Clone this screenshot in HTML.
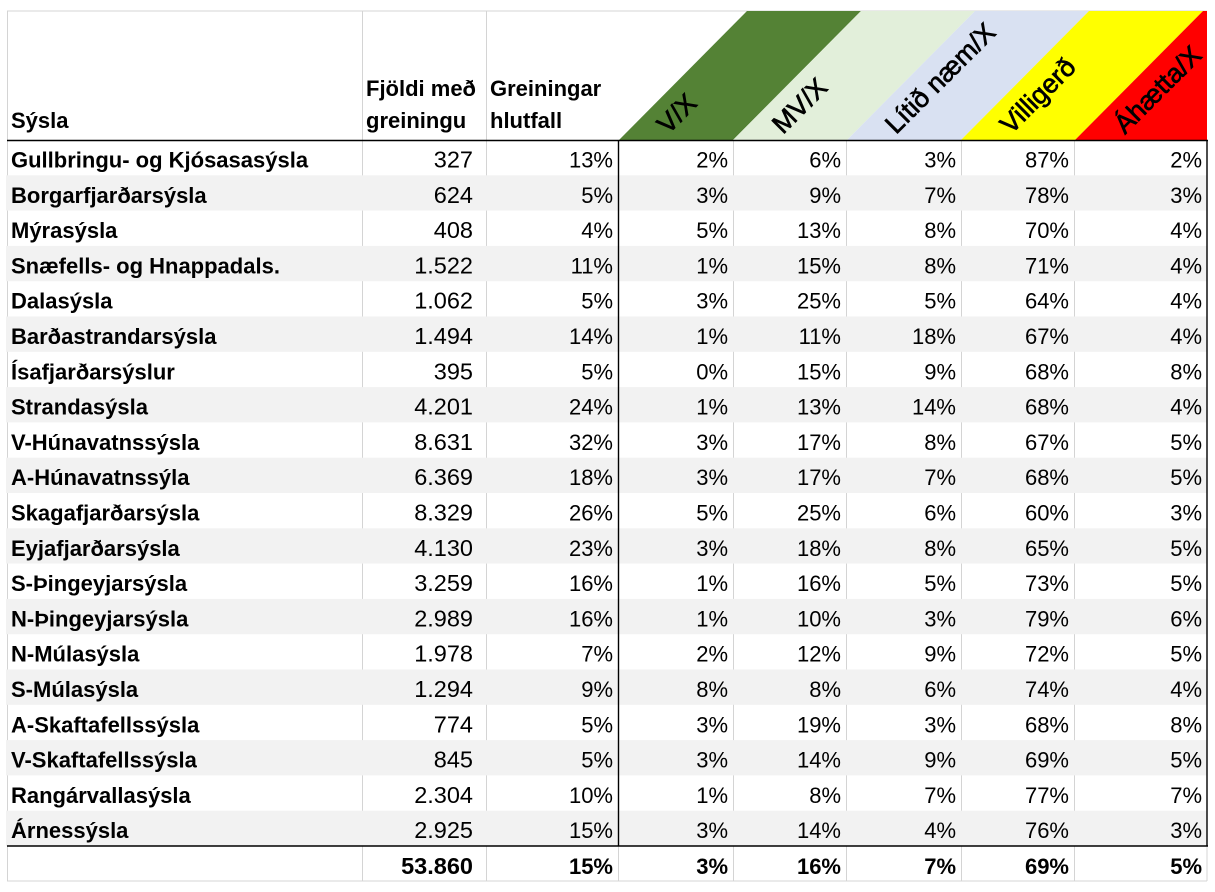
<!DOCTYPE html>
<html>
<head>
<meta charset="utf-8">
<style>
html,body{margin:0;padding:0;background:#fff;}
svg{display:block;font-family:"Liberation Sans",Arial,sans-serif;}
.lb{font-weight:bold;font-size:22px;fill:#000;}
.n{font-size:23.5px;fill:#000;text-anchor:end;}
.p{font-size:22px;fill:#000;text-anchor:end;}
.b{font-weight:bold;}
.rot{font-size:26.5px;fill:#000;stroke:#000;stroke-width:0.7px;}
</style>
</head>
<body>
<svg width="1215" height="892" viewBox="0 0 1215 892" xmlns="http://www.w3.org/2000/svg">
<rect x="0" y="0" width="1215" height="892" fill="#fff"/>

<line x1="7" y1="11" x2="1207" y2="11" stroke="#d4d4d4" stroke-width="1"/>
<line x1="7.5" y1="11" x2="7.5" y2="881" stroke="#d4d4d4" stroke-width="1"/>
<line x1="362.5" y1="11" x2="362.5" y2="881" stroke="#d4d4d4" stroke-width="1"/>
<line x1="486.5" y1="11" x2="486.5" y2="881" stroke="#d4d4d4" stroke-width="1"/>
<line x1="733.5" y1="140" x2="733.5" y2="881" stroke="#d4d4d4" stroke-width="1"/>
<line x1="846.5" y1="140" x2="846.5" y2="881" stroke="#d4d4d4" stroke-width="1"/>
<line x1="961.5" y1="140" x2="961.5" y2="881" stroke="#d4d4d4" stroke-width="1"/>
<line x1="1074.5" y1="140" x2="1074.5" y2="881" stroke="#d4d4d4" stroke-width="1"/>
<line x1="618.5" y1="846" x2="618.5" y2="881" stroke="#d4d4d4" stroke-width="1"/>
<line x1="1207" y1="846" x2="1207" y2="881" stroke="#d4d4d4" stroke-width="1"/>
<line x1="7" y1="881" x2="1207" y2="881" stroke="#d4d4d4" stroke-width="1"/>

<polygon points="619,140 733,140 861,11 747,11" fill="#548235"/>
<polygon points="733,140 847,140 975,11 861,11" fill="#e2efda"/>
<polygon points="847,140 961,140 1089,11 975,11" fill="#d9e1f2"/>
<polygon points="961,140 1075,140 1203,11 1089,11" fill="#ffff00"/>
<polygon points="1075,140 1207,140 1207,11 1203,11" fill="#ff0000"/>

<g fill="#f2f2f2">
<rect x="6" y="175.3" width="1201" height="35.3"/>
<rect x="6" y="245.9" width="1201" height="35.3"/>
<rect x="6" y="316.5" width="1201" height="35.3"/>
<rect x="6" y="387.1" width="1201" height="35.3"/>
<rect x="6" y="457.7" width="1201" height="35.3"/>
<rect x="6" y="528.3" width="1201" height="35.3"/>
<rect x="6" y="598.9" width="1201" height="35.3"/>
<rect x="6" y="669.5" width="1201" height="35.3"/>
<rect x="6" y="740.1" width="1201" height="35.3"/>
<rect x="6" y="810.7" width="1201" height="35.3"/>
</g>

<line x1="7" y1="140.5" x2="1208" y2="140.5" stroke="#000" stroke-width="1.6"/>
<line x1="7" y1="846" x2="1208" y2="846" stroke="#000" stroke-width="1.6"/>
<line x1="618.5" y1="140" x2="618.5" y2="846" stroke="#000" stroke-width="1.4"/>
<line x1="1207" y1="140" x2="1207" y2="846" stroke="#000" stroke-width="1.4"/>

<text class="lb" x="11" y="128">Sýsla</text>
<text class="lb" x="366" y="96">Fjöldi með</text>
<text class="lb" x="366" y="128">greiningu</text>
<text class="lb" x="490" y="96">Greiningar</text>
<text class="lb" x="490" y="128">hlutfall</text>

<text class="rot" transform="translate(668,135) rotate(-45)">V/X</text>
<text class="rot" transform="translate(783,135) rotate(-45)">MV/X</text>
<text class="rot" transform="translate(896,135) rotate(-45)">Lítið næm/X</text>
<text class="rot" transform="translate(1011,135) rotate(-45)">Villigerð</text>
<text class="rot" transform="translate(1125,135) rotate(-45)">Áhætta/X</text>

<g transform="translate(0,167.5)">
<text class="lb" x="11" y="0">Gullbringu- og Kjósasasýsla</text>
<text class="n" x="473" y="0">327</text><text class="p" x="613" y="0">13%</text><text class="p" x="728" y="0">2%</text><text class="p" x="841" y="0">6%</text><text class="p" x="956" y="0">3%</text><text class="p" x="1069" y="0">87%</text><text class="p" x="1202" y="0">2%</text>
</g>
<g transform="translate(0,202.8)">
<text class="lb" x="11" y="0">Borgarfjarðarsýsla</text>
<text class="n" x="473" y="0">624</text><text class="p" x="613" y="0">5%</text><text class="p" x="728" y="0">3%</text><text class="p" x="841" y="0">9%</text><text class="p" x="956" y="0">7%</text><text class="p" x="1069" y="0">78%</text><text class="p" x="1202" y="0">3%</text>
</g>
<g transform="translate(0,238.1)">
<text class="lb" x="11" y="0">Mýrasýsla</text>
<text class="n" x="473" y="0">408</text><text class="p" x="613" y="0">4%</text><text class="p" x="728" y="0">5%</text><text class="p" x="841" y="0">13%</text><text class="p" x="956" y="0">8%</text><text class="p" x="1069" y="0">70%</text><text class="p" x="1202" y="0">4%</text>
</g>
<g transform="translate(0,273.4)">
<text class="lb" x="11" y="0">Snæfells- og Hnappadals.</text>
<text class="n" x="473" y="0">1.522</text><text class="p" x="613" y="0">11%</text><text class="p" x="728" y="0">1%</text><text class="p" x="841" y="0">15%</text><text class="p" x="956" y="0">8%</text><text class="p" x="1069" y="0">71%</text><text class="p" x="1202" y="0">4%</text>
</g>
<g transform="translate(0,308.7)">
<text class="lb" x="11" y="0">Dalasýsla</text>
<text class="n" x="473" y="0">1.062</text><text class="p" x="613" y="0">5%</text><text class="p" x="728" y="0">3%</text><text class="p" x="841" y="0">25%</text><text class="p" x="956" y="0">5%</text><text class="p" x="1069" y="0">64%</text><text class="p" x="1202" y="0">4%</text>
</g>
<g transform="translate(0,344)">
<text class="lb" x="11" y="0">Barðastrandarsýsla</text>
<text class="n" x="473" y="0">1.494</text><text class="p" x="613" y="0">14%</text><text class="p" x="728" y="0">1%</text><text class="p" x="841" y="0">11%</text><text class="p" x="956" y="0">18%</text><text class="p" x="1069" y="0">67%</text><text class="p" x="1202" y="0">4%</text>
</g>
<g transform="translate(0,379.3)">
<text class="lb" x="11" y="0">Ísafjarðarsýslur</text>
<text class="n" x="473" y="0">395</text><text class="p" x="613" y="0">5%</text><text class="p" x="728" y="0">0%</text><text class="p" x="841" y="0">15%</text><text class="p" x="956" y="0">9%</text><text class="p" x="1069" y="0">68%</text><text class="p" x="1202" y="0">8%</text>
</g>
<g transform="translate(0,414.6)">
<text class="lb" x="11" y="0">Strandasýsla</text>
<text class="n" x="473" y="0">4.201</text><text class="p" x="613" y="0">24%</text><text class="p" x="728" y="0">1%</text><text class="p" x="841" y="0">13%</text><text class="p" x="956" y="0">14%</text><text class="p" x="1069" y="0">68%</text><text class="p" x="1202" y="0">4%</text>
</g>
<g transform="translate(0,449.9)">
<text class="lb" x="11" y="0">V-Húnavatnssýsla</text>
<text class="n" x="473" y="0">8.631</text><text class="p" x="613" y="0">32%</text><text class="p" x="728" y="0">3%</text><text class="p" x="841" y="0">17%</text><text class="p" x="956" y="0">8%</text><text class="p" x="1069" y="0">67%</text><text class="p" x="1202" y="0">5%</text>
</g>
<g transform="translate(0,485.2)">
<text class="lb" x="11" y="0">A-Húnavatnssýla</text>
<text class="n" x="473" y="0">6.369</text><text class="p" x="613" y="0">18%</text><text class="p" x="728" y="0">3%</text><text class="p" x="841" y="0">17%</text><text class="p" x="956" y="0">7%</text><text class="p" x="1069" y="0">68%</text><text class="p" x="1202" y="0">5%</text>
</g>
<g transform="translate(0,520.5)">
<text class="lb" x="11" y="0">Skagafjarðarsýsla</text>
<text class="n" x="473" y="0">8.329</text><text class="p" x="613" y="0">26%</text><text class="p" x="728" y="0">5%</text><text class="p" x="841" y="0">25%</text><text class="p" x="956" y="0">6%</text><text class="p" x="1069" y="0">60%</text><text class="p" x="1202" y="0">3%</text>
</g>
<g transform="translate(0,555.8)">
<text class="lb" x="11" y="0">Eyjafjarðarsýsla</text>
<text class="n" x="473" y="0">4.130</text><text class="p" x="613" y="0">23%</text><text class="p" x="728" y="0">3%</text><text class="p" x="841" y="0">18%</text><text class="p" x="956" y="0">8%</text><text class="p" x="1069" y="0">65%</text><text class="p" x="1202" y="0">5%</text>
</g>
<g transform="translate(0,591.1)">
<text class="lb" x="11" y="0">S-Þingeyjarsýsla</text>
<text class="n" x="473" y="0">3.259</text><text class="p" x="613" y="0">16%</text><text class="p" x="728" y="0">1%</text><text class="p" x="841" y="0">16%</text><text class="p" x="956" y="0">5%</text><text class="p" x="1069" y="0">73%</text><text class="p" x="1202" y="0">5%</text>
</g>
<g transform="translate(0,626.4)">
<text class="lb" x="11" y="0">N-Þingeyjarsýsla</text>
<text class="n" x="473" y="0">2.989</text><text class="p" x="613" y="0">16%</text><text class="p" x="728" y="0">1%</text><text class="p" x="841" y="0">10%</text><text class="p" x="956" y="0">3%</text><text class="p" x="1069" y="0">79%</text><text class="p" x="1202" y="0">6%</text>
</g>
<g transform="translate(0,661.7)">
<text class="lb" x="11" y="0">N-Múlasýsla</text>
<text class="n" x="473" y="0">1.978</text><text class="p" x="613" y="0">7%</text><text class="p" x="728" y="0">2%</text><text class="p" x="841" y="0">12%</text><text class="p" x="956" y="0">9%</text><text class="p" x="1069" y="0">72%</text><text class="p" x="1202" y="0">5%</text>
</g>
<g transform="translate(0,697)">
<text class="lb" x="11" y="0">S-Múlasýsla</text>
<text class="n" x="473" y="0">1.294</text><text class="p" x="613" y="0">9%</text><text class="p" x="728" y="0">8%</text><text class="p" x="841" y="0">8%</text><text class="p" x="956" y="0">6%</text><text class="p" x="1069" y="0">74%</text><text class="p" x="1202" y="0">4%</text>
</g>
<g transform="translate(0,732.3)">
<text class="lb" x="11" y="0">A-Skaftafellssýsla</text>
<text class="n" x="473" y="0">774</text><text class="p" x="613" y="0">5%</text><text class="p" x="728" y="0">3%</text><text class="p" x="841" y="0">19%</text><text class="p" x="956" y="0">3%</text><text class="p" x="1069" y="0">68%</text><text class="p" x="1202" y="0">8%</text>
</g>
<g transform="translate(0,767.6)">
<text class="lb" x="11" y="0">V-Skaftafellssýsla</text>
<text class="n" x="473" y="0">845</text><text class="p" x="613" y="0">5%</text><text class="p" x="728" y="0">3%</text><text class="p" x="841" y="0">14%</text><text class="p" x="956" y="0">9%</text><text class="p" x="1069" y="0">69%</text><text class="p" x="1202" y="0">5%</text>
</g>
<g transform="translate(0,802.9)">
<text class="lb" x="11" y="0">Rangárvallasýsla</text>
<text class="n" x="473" y="0">2.304</text><text class="p" x="613" y="0">10%</text><text class="p" x="728" y="0">1%</text><text class="p" x="841" y="0">8%</text><text class="p" x="956" y="0">7%</text><text class="p" x="1069" y="0">77%</text><text class="p" x="1202" y="0">7%</text>
</g>
<g transform="translate(0,838.2)">
<text class="lb" x="11" y="0">Árnessýsla</text>
<text class="n" x="473" y="0">2.925</text><text class="p" x="613" y="0">15%</text><text class="p" x="728" y="0">3%</text><text class="p" x="841" y="0">14%</text><text class="p" x="956" y="0">4%</text><text class="p" x="1069" y="0">76%</text><text class="p" x="1202" y="0">3%</text>
</g>
<g transform="translate(0,874)">
<text class="n b" x="473" y="0">53.860</text><text class="p b" x="613" y="0">15%</text><text class="p b" x="728" y="0">3%</text><text class="p b" x="841" y="0">16%</text><text class="p b" x="956" y="0">7%</text><text class="p b" x="1069" y="0">69%</text><text class="p b" x="1202" y="0">5%</text>
</g>
</svg>
</body>
</html>
